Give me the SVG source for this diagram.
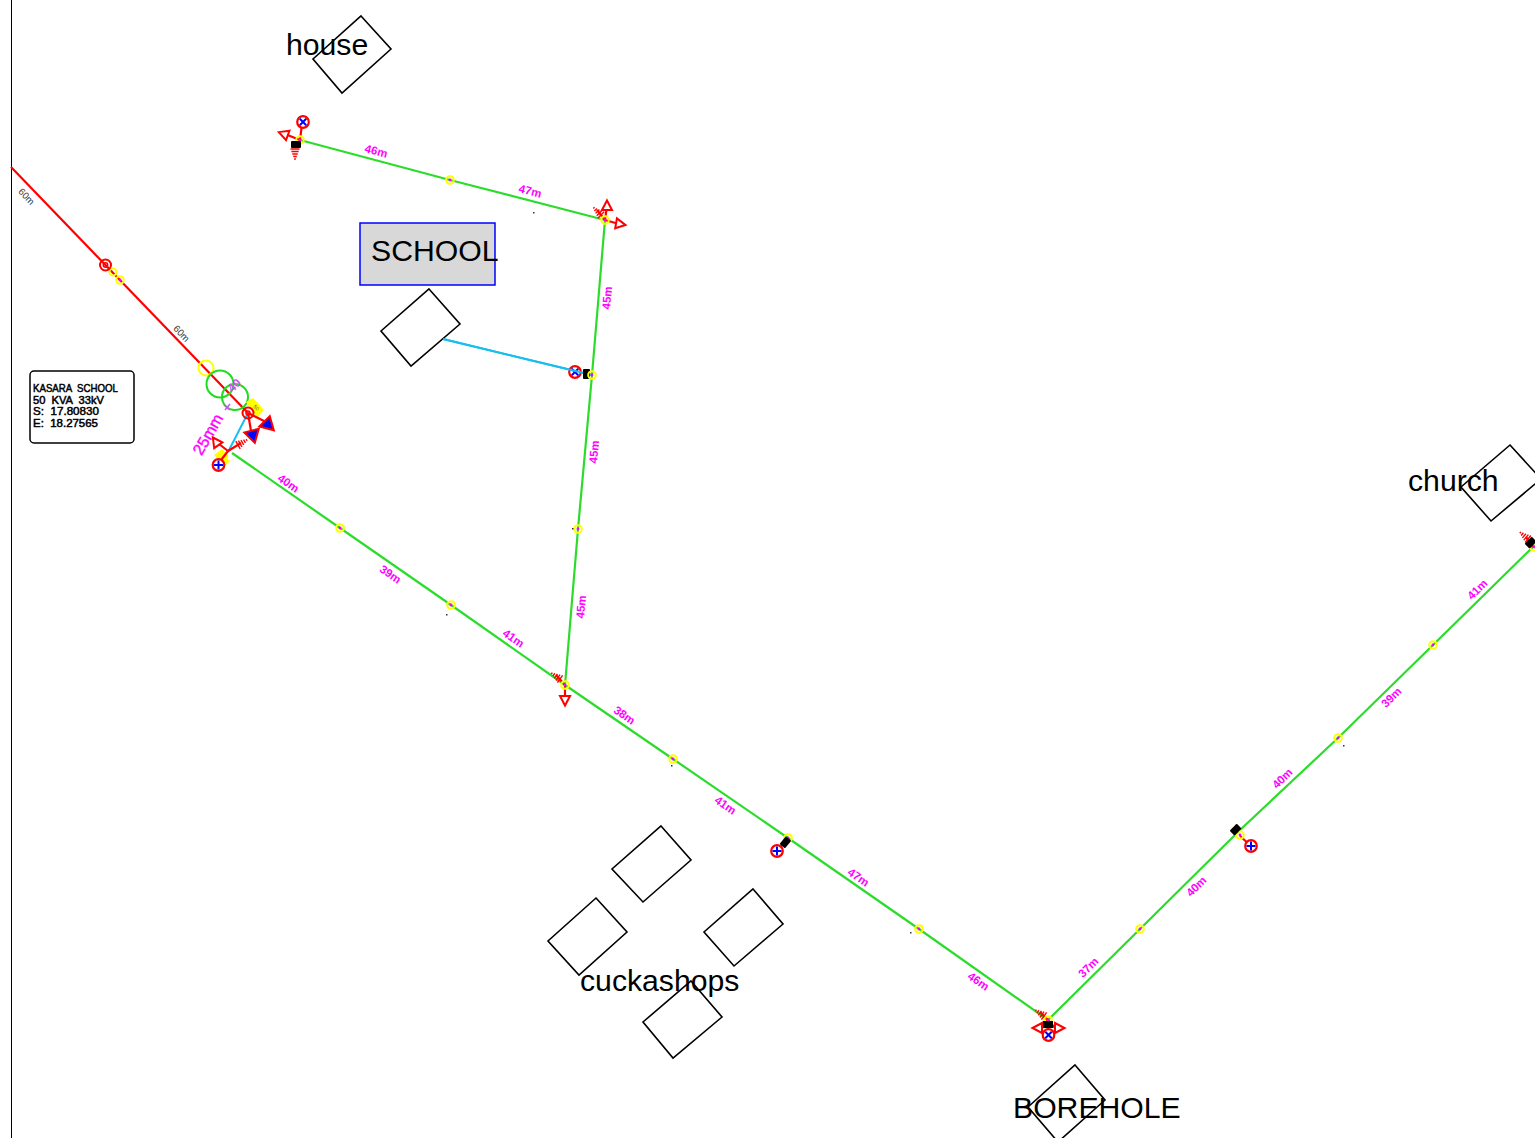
<svg xmlns="http://www.w3.org/2000/svg" xmlns:xlink="http://www.w3.org/1999/xlink" width="1535" height="1138" viewBox="0 0 1535 1138">
<style>
text{font-family:"Liberation Sans",Arial,sans-serif}
.big{font-size:30.2px;fill:#000}
.len{font-size:11.500px;font-weight:bold;fill:#f0f;text-anchor:middle;dominant-baseline:middle}
.hv{font-size:9.500px;fill:#333;text-anchor:middle;dominant-baseline:middle}
.bld{fill:#fff;stroke:#000;stroke-width:1.600}
.lv{fill:none;stroke:#2bdc2b;stroke-width:2.200}
.r{fill:none;stroke:#f00;stroke-width:2.200}
.info{font-size:11px;fill:#000;stroke:#000;stroke-width:.5}
</style>
<defs>
<g id="pole"><circle r="3.800" fill="none" stroke="#ff0" stroke-width="2"/><circle r="1.400" fill="#f0f"/></g>
<g id="stay"><circle r="5.800" fill="#fff" stroke="#f00" stroke-width="2.200"/><path d="M-4.500 0H4.500M0-4.500V4.500" stroke="#00f" stroke-width="2"/></g>
<path id="tri" d="M0-5.500L5 4H-5Z" fill="#fff" stroke="#f00" stroke-width="2"/>
<path id="tribl" d="M0-7L7.500 5.500H-7.500Z" fill="#00f" stroke="#f00" stroke-width="2"/>
<path id="earth" d="M-4.500 0H4.500M-3.600 2.500H3.600M-2.700 5H2.700M-1.800 7.500H1.800M-.9 10H.9" stroke="#f00" stroke-width="1.400" fill="none"/>
</defs>
<rect width="1535" height="1138" fill="#fff"/>
<path d="M11.500 0V1138" stroke="#000" stroke-width="1"/>

<g id="connectors">
<path d="M11 167L248 413" stroke="#f00" stroke-width="2.200" fill="none"/>
<path d="M232 453L340 528L451 605L565 685L673 759L788 838L919 929L1048 1020L1140 929L1240 830L1338 738L1433 645L1535 545" class="lv"/>
<path d="M565 685L578 529L592 375L605 220L450 180L300 140" class="lv"/>
<path d="M443 339L592 375M248 413L228 452" fill="none" stroke="#17bff0" stroke-width="2"/>
</g>

<g id="house"><path class="bld" d="M361 16L391 49L342 93L313 59Z"/><text class="big" x="286" y="55">house</text></g>
<g id="school-sign"><rect x="360" y="223" width="135" height="62" fill="#d8d8d8" stroke="#00f" stroke-width="1.500"/><text class="big" x="371" y="261">SCHOOL</text></g>
<g id="school-building"><path class="bld" d="M429 289L460 324L411 366L381 331Z"/></g>
<g id="church"><path class="bld" d="M1510 445L1541 479L1491 521L1461 487Z"/><text class="big" x="1408" y="491">church</text></g>
<g id="shop1"><path class="bld" d="M661 826L691 860L643 902L612 869Z"/></g>
<g id="shop2"><path class="bld" d="M596 898L627 932L579 975L548 941Z"/></g>
<g id="shop3"><path class="bld" d="M753 889L783 924L734 966L704 932Z"/></g>
<g id="shop4"><path class="bld" d="M691 981L722 1017L673 1058L643 1022Z"/></g>
<g id="cuckashops"><text class="big" x="580" y="991">cuckashops</text></g>
<g id="borehole"><path class="bld" d="M1075 1065L1105 1100L1058 1142L1028 1107Z"/><text class="big" x="1013" y="1118">BOREHOLE</text></g>

<g id="info-box"><rect x="30" y="371" width="104" height="72" rx="4" fill="#fff" stroke="#000" stroke-width="1.500"/>
<text class="info" x="33" y="392" xml:space="preserve" textLength="85" lengthAdjust="spacingAndGlyphs">KASARA  SCHOOL</text>
<text class="info" x="33" y="404" xml:space="preserve" textLength="71" lengthAdjust="spacingAndGlyphs">50  KVA  33kV</text>
<text class="info" x="33" y="415" xml:space="preserve" textLength="66" lengthAdjust="spacingAndGlyphs">S:  17.80830</text>
<text class="info" x="33" y="427" xml:space="preserve" textLength="65" lengthAdjust="spacingAndGlyphs">E:  18.27565</text></g>

<g id="poles">
<use href="#pole" x="340" y="528"/><use href="#pole" x="451" y="605"/><use href="#pole" x="673" y="759"/>
<use href="#pole" x="919" y="929"/><use href="#pole" x="1140" y="929"/><use href="#pole" x="1338" y="738"/>
<use href="#pole" x="1433" y="645"/><use href="#pole" x="578" y="529"/><use href="#pole" x="450" y="180"/>
</g>
<g id="specks" fill="#333"><rect x="533" y="212" width="1.500" height="1.500"/><rect x="446" y="614" width="1.500" height="1.500"/><rect x="572" y="528" width="1.500" height="1.500"/><rect x="671" y="765" width="1.500" height="1.500"/><rect x="910" y="932" width="1.500" height="1.500"/><rect x="1343" y="745" width="1.500" height="1.500"/></g>

<g id="hv-poles">
<circle cx="113" cy="272" r="3.500" fill="none" stroke="#ff0" stroke-width="2"/>
<use href="#pole" x="120" y="280"/>
<circle cx="105.500" cy="265" r="5.500" fill="none" stroke="#f00" stroke-width="2"/><circle cx="105.500" cy="265" r="2.200" fill="none" stroke="#f00" stroke-width="1.500"/>
</g>

<g id="transformer">
<circle cx="206" cy="368" r="7.500" fill="none" stroke="#ff0" stroke-width="2"/>
<circle cx="220" cy="384" r="13.500" fill="none" stroke="#1fdc1f" stroke-width="2"/>
<circle cx="235" cy="397" r="13" fill="none" stroke="#1fdc1f" stroke-width="2"/>
<text x="235" y="386" transform="rotate(-45 235 386)" font-size="12" fill="#d050f0" text-anchor="middle" dominant-baseline="middle" font-weight="bold">40</text>
<path d="M224 405L230 410M230 404L225 410" stroke="#d050f0" stroke-width="1.500"/>
<path d="M246 402L253 398L264 410L257 418Z" fill="#ff0"/>
<text x="256" y="408" transform="rotate(45 256 408)" font-size="5" fill="#555" text-anchor="middle" dominant-baseline="middle">50</text>
<path d="M248 413L266 422M248 413L251 431" class="r"/>
<use href="#tribl" transform="translate(268 423) rotate(15)"/>
<use href="#tribl" transform="translate(253 436) rotate(165)"/>
<circle cx="248" cy="413" r="5.500" fill="none" stroke="#f00" stroke-width="2"/><circle cx="248" cy="413" r="2" fill="none" stroke="#f00" stroke-width="1.500"/>
<path d="M214 455L222 449L232 459L225 466Z" fill="#ff0"/>
<circle cx="230" cy="458" r="2.500" fill="#fff"/>
<path d="M228 451L218 464M228 451L219 444M228 451L241 443" class="r"/>
<use href="#tri" transform="translate(216 442) rotate(-35)"/>
<use href="#earth" transform="translate(238 445) rotate(-120)"/>
<use href="#stay" x="218.500" y="465"/>
<text x="209" y="435" transform="rotate(-60 209 435)" font-size="16" stroke="#f0f" stroke-width=".4" fill="#f0f" text-anchor="middle" dominant-baseline="middle">25mm</text>
</g>

<g id="node-nw">
<path d="M300 140L302 124M300 140L285 134" class="r"/>
<use href="#pole" x="300" y="140"/>
<rect x="291" y="141" width="10" height="7" rx="1" fill="#000"/>
<use href="#earth" transform="translate(295 149)"/>
<use href="#tri" transform="translate(284 134) rotate(-70)"/>
<use href="#stay" transform="translate(303 122) rotate(45)"/>
</g>
<g id="node-ne">
<path d="M605 220L607 206M605 220L619 224M605 220L597 210" class="r"/>
<use href="#pole" x="605" y="220"/>
<use href="#tri" transform="translate(607 206)"/>
<use href="#tri" transform="translate(620 224) rotate(100)"/>
<use href="#earth" transform="translate(601 215) rotate(135)"/>
</g>
<g id="node-tee">
<use href="#stay" transform="translate(575 372) rotate(45)"/>
<path d="M443 339L592 375" stroke="#17bff0" stroke-width="2"/>
<rect x="583" y="369" width="7" height="10" rx="1" fill="#000"/>
<use href="#pole" x="592" y="375"/>
</g>
<g id="node-junction">
<path d="M565 685L565 698M565 685L556 675" class="r"/>
<use href="#pole" x="565" y="685"/>
<use href="#tri" transform="translate(565 700) rotate(180)"/>
<use href="#earth" transform="translate(560 679) rotate(125)"/>
</g>
<g id="node-stay-788">
<path d="M788 838L777 851" class="r"/>
<use href="#pole" x="788" y="838"/>
<rect x="780" y="839" width="10" height="7" rx="1" fill="#000" transform="rotate(-50 785 842)"/>
<use href="#stay" x="777" y="851"/>
</g>
<g id="node-bottom">
<path d="M1048 1020L1048 1034M1048 1020L1042 1028M1048 1020L1055 1028M1048 1020L1040 1012" class="r"/>
<use href="#pole" x="1048" y="1020"/>
<rect x="1043" y="1021" width="10" height="7" fill="#000"/>
<use href="#tri" transform="translate(1038 1028) rotate(-90)"/>
<use href="#tri" transform="translate(1059 1028) rotate(90)"/>
<use href="#earth" transform="translate(1044 1016) rotate(125)"/>
<use href="#stay" transform="translate(1048.500 1035) rotate(45)"/>
</g>
<g id="node-stay-1240">
<path d="M1240 836L1251 846" class="r"/>
<use href="#pole" x="1240" y="835"/>
<rect x="1231" y="826" width="10" height="7" rx="1" fill="#000" transform="rotate(-45 1236 830)"/>
<use href="#stay" x="1251" y="846"/>
</g>
<g id="node-east">
<path d="M1533 547L1526 537" class="r"/>
<use href="#pole" x="1534" y="547"/>
<rect x="1526" y="539" width="10" height="7" rx="1" fill="#000" transform="rotate(-45 1531 543)"/>
<use href="#earth" transform="translate(1528 539) rotate(130)"/>
</g>

<g id="labels">
<text class="hv" transform="translate(26 197) rotate(46)">60m</text>
<text class="hv" transform="translate(181 334) rotate(46)">60m</text>
<text class="len" transform="translate(376 152) rotate(15)">46m</text>
<text class="len" transform="translate(530 192) rotate(15)">47m</text>
<text class="len" transform="translate(608 298) rotate(-85)">45m</text>
<text class="len" transform="translate(595 452) rotate(-85)">45m</text>
<text class="len" transform="translate(582 607) rotate(-85)">45m</text>
<text class="len" transform="translate(288 484) rotate(35)">40m</text>
<text class="len" transform="translate(390 575) rotate(35)">39m</text>
<text class="len" transform="translate(513 639) rotate(35)">41m</text>
<text class="len" transform="translate(624 716) rotate(35)">38m</text>
<text class="len" transform="translate(725 806) rotate(35)">41m</text>
<text class="len" transform="translate(858 878) rotate(35)">47m</text>
<text class="len" transform="translate(978 982) rotate(35)">46m</text>
<text class="len" transform="translate(1089 968) rotate(-45)">37m</text>
<text class="len" transform="translate(1197 887) rotate(-45)">40m</text>
<text class="len" transform="translate(1283 779) rotate(-45)">40m</text>
<text class="len" transform="translate(1392 698) rotate(-45)">39m</text>
<text class="len" transform="translate(1478 590) rotate(-45)">41m</text>
</g>
</svg>
